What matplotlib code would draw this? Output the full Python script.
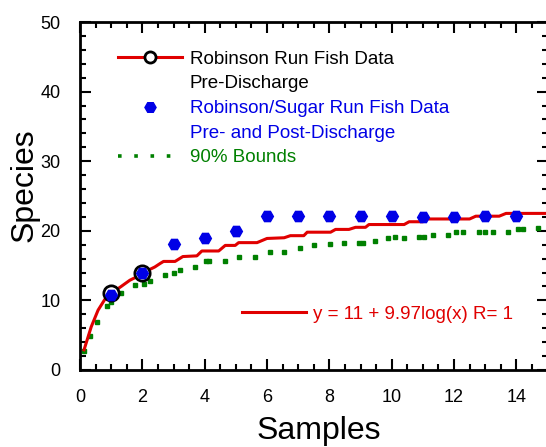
import matplotlib
matplotlib.use("Agg")
import matplotlib.pyplot as plt
from matplotlib.lines import Line2D
from matplotlib.ticker import MultipleLocator

plt.rcParams['font.family'] = ['Liberation Sans', 'DejaVu Sans']

# Robinson Run curve (stepped accumulation curve)
red_x = [0.13, 0.36, 0.58, 0.79, 1.0, 1.32, 1.6, 1.87, 2.08, 2.4, 2.57, 2.68, 3.05, 3.3,
         3.75, 3.91, 4.45, 4.66, 4.98, 5.09, 5.68, 6.0, 6.55, 6.75, 7.18, 7.29, 8.04, 8.2,
         8.63, 8.84, 9.16, 9.27, 10.4, 10.56, 11.0, 11.15, 12.5, 12.7, 13.45, 13.67, 15.0]
red_y = [2.9, 6.2, 8.6, 10.1, 11.0, 12.0, 12.9, 13.5, 14.1, 14.8, 15.3, 15.6, 15.6, 16.3,
         16.4, 17.1, 17.1, 17.9, 17.9, 18.3, 18.3, 18.9, 19.0, 19.3, 19.3, 19.8, 19.8, 20.2,
         20.2, 20.5, 20.5, 20.9, 20.9, 21.3, 21.3, 21.7, 21.7, 22.1, 22.1, 22.5, 22.5]

# Robinson Run pre-discharge samples
circ_x = [1, 2]
circ_y = [11, 14]

# Robinson/Sugar Run pre- and post-discharge
blue_x = [1, 2, 3, 4, 5, 6, 7, 8, 9, 10, 11, 12, 13, 14]
blue_y = [10.8, 14.0, 18.1, 18.9, 19.9, 22.1, 22.1, 22.1, 22.1, 22.1, 22.0, 22.0, 22.1, 22.1]

# 90% bounds
grn_x = [0.13, 0.33, 0.55, 0.88, 1.0, 1.31, 1.78, 2.04, 2.26, 2.74, 3.01, 3.2, 3.7, 4.04,
         4.15, 4.66, 5.09, 5.6, 6.09, 6.54, 7.07, 7.52, 8.02, 8.47, 8.95, 9.09, 9.46, 9.88,
         10.1, 10.4, 10.88, 11.04, 11.34, 11.81, 12.06, 12.29, 12.8, 13.0, 13.24, 13.74,
         14.06, 14.22, 14.68]
grn_y = [2.8, 4.9, 6.9, 9.2, 9.8, 11.0, 12.2, 12.4, 12.8, 13.6, 14.0, 14.4, 14.8, 15.6,
         15.6, 15.7, 16.3, 16.3, 16.9, 17.0, 17.5, 17.9, 18.1, 18.2, 18.2, 18.2, 18.6, 19.0,
         19.1, 19.0, 19.1, 19.1, 19.4, 19.4, 19.8, 19.8, 19.8, 19.8, 19.8, 19.8,
         20.2, 20.2, 20.4]

legend_labels = ['Robinson Run Fish Data', 'Pre-Discharge',
                 'Robinson/Sugar Run Fish Data', 'Pre- and Post-Discharge',
                 '90% Bounds']
fit_label = 'y = 11 + 9.97log(x) R= 1'

red = '#e00000'
blue = '#0000e6'
green = '#008000'

fig = plt.figure(figsize=(5.46, 4.47), dpi=100)
ax = fig.add_axes([80/546, 77/447, 467.5/546, 348/447])

ax.plot(grn_x, grn_y, linestyle='none', marker='s', markersize=2.6, color=green)
ax.plot(red_x, red_y, color=red, lw=2.2, zorder=3)
ax.plot(circ_x, circ_y, linestyle='none', marker='o', markersize=11, mfc='white',
        mec='black', mew=2, zorder=4)
ax.plot(blue_x, blue_y, linestyle='none', marker='H', markersize=8.5, color=blue, zorder=5)

ax.set_xlim(0, 15)
ax.set_ylim(0, 50)
ax.xaxis.set_major_locator(MultipleLocator(2))
ax.xaxis.set_minor_locator(MultipleLocator(0.5))
ax.yaxis.set_major_locator(MultipleLocator(10))
ax.yaxis.set_minor_locator(MultipleLocator(2))
ax.tick_params(which='both', direction='in', top=True, right=True, width=1.5,
               labelsize=13, pad=14)
ax.tick_params(which='major', length=8)
ax.tick_params(which='minor', length=4)
for s in ax.spines.values():
    s.set_linewidth(2)

ax.set_xlabel('Samples', fontsize=23)
ax.xaxis.set_label_coords(0.511, -0.132)
ax.set_ylabel('Species', fontsize=23)
ax.yaxis.set_label_coords(-0.086, 0.53)

h1 = Line2D([], [], color=red, lw=2.2, marker='o', markersize=8, mfc='white',
            mec='black', mew=2)
h2 = Line2D([], [], linestyle='none', marker='H', markersize=8, color=blue)
h3 = Line2D([], [], linestyle=(0, (1, 3.5)), lw=2.6, color=green)
blank = Line2D([], [], linestyle='none')
leg = ax.legend([h1, blank, h2, blank, h3], legend_labels,
                loc='upper left', bbox_to_anchor=(0.046, 0.966), frameon=False,
                fontsize=13.5, handlelength=3.4, handletextpad=0.4, labelspacing=0.4,
                numpoints=1, labelcolor=['black', 'black', blue, blue, green])
ax.add_artist(leg)

h4 = Line2D([], [], color=red, lw=2.2)
ax.legend([h4], [fit_label], loc='upper left',
          bbox_to_anchor=(0.31, 0.233), frameon=False, fontsize=13.5,
          handlelength=3.4, handletextpad=0.4, labelcolor=red)

fig.savefig('out.png', dpi=100)
